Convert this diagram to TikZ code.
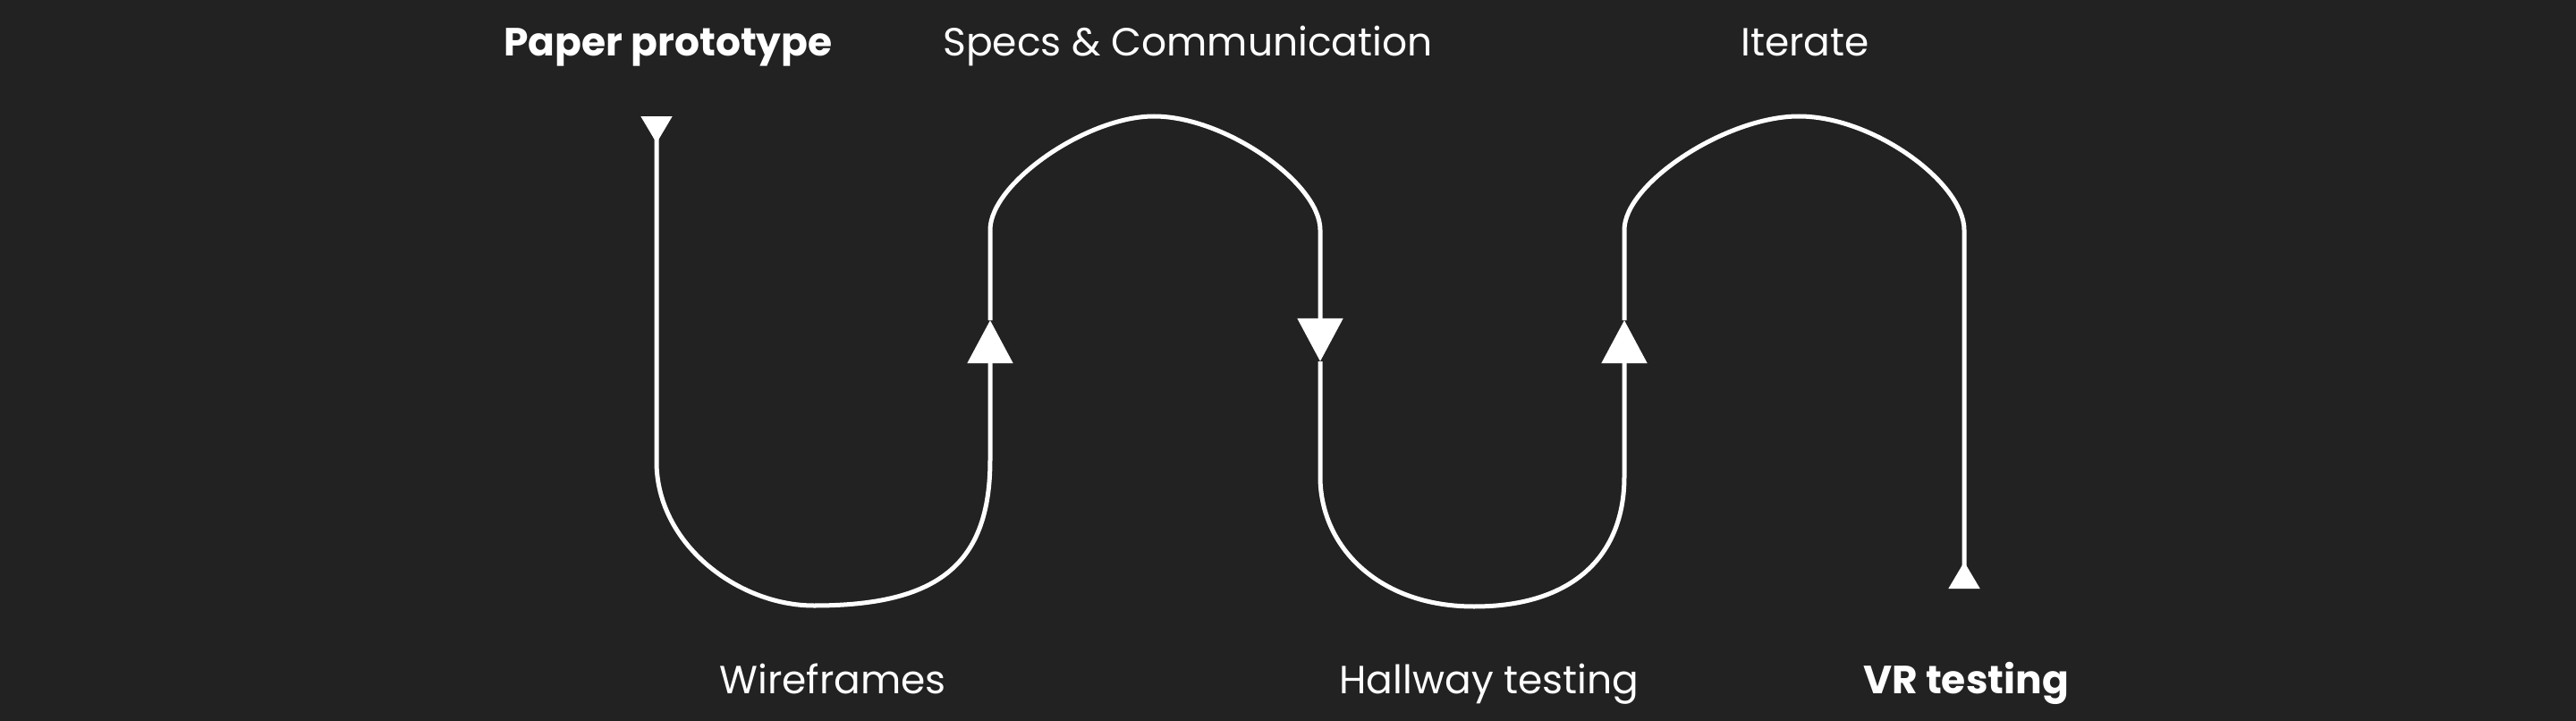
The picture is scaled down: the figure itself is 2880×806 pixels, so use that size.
\documentclass[tikz,border=0pt]{standalone}
\usepackage{fontspec}
\setmainfont{Poppins}
\usetikzlibrary{arrows.meta}
\definecolor{canvas}{RGB}{34,34,34}

\begin{document}
\begin{tikzpicture}[x=0.01cm, y=-0.01cm,
  flow/.style={draw=white, line width=0.05cm, line join=round},
  stage/.style={text=white, inner sep=0pt, anchor=base, font=\fontsize{12.5}{15}\selectfont},
  milestone/.style={stage, font=\fontsize{12.5}{15}\selectfont\bfseries},
  midtip/.tip={Triangle[length=0.48cm, width=0.5cm]},
  endtip/.tip={Triangle[reversed, length=0.3cm, width=0.34cm]}]
  % canvas 2880 x 806 px, 1 px = 0.01 cm
  \fill[canvas] (0,0) rectangle (2880,806);

  % points along the wave
  \coordinate (start) at (734,130);
  \coordinate (l1) at (734,516);
  \coordinate (b1) at (910,677);
  \coordinate (r1) at (1107,514);
  \coordinate (up1) at (1107,358);
  \coordinate (l2) at (1107,257);
  \coordinate (t1) at (1290,130);
  \coordinate (r2) at (1476,257);
  \coordinate (dn1) at (1476,404);
  \coordinate (l3) at (1476,533);
  \coordinate (b2) at (1648,678);
  \coordinate (r3) at (1816,533);
  \coordinate (up2) at (1816,358);
  \coordinate (l4) at (1816,257);
  \coordinate (t2) at (2011,130);
  \coordinate (r4) at (2196,257);
  \coordinate (finish) at (2196,658);

  % the wave, split at the arrow heads
  \draw[flow, endtip-midtip] (start) -- (l1)
    .. controls (734,608) and (825,677) .. (b1)
    .. controls (1050,677) and (1107,630) .. (r1) -- (up1);
  \draw[flow, -midtip] (up1) -- (l2)
    .. controls (1107,205) and (1215,130) .. (t1)
    .. controls (1370,130) and (1476,205) .. (r2) -- (dn1);
  \draw[flow, -midtip] (dn1) -- (l3)
    .. controls (1476,610) and (1540,678) .. (b2)
    .. controls (1760,678) and (1816,620) .. (r3) -- (up2);
  \draw[flow, -endtip] (up2) -- (l4)
    .. controls (1816,205) and (1930,130) .. (t2)
    .. controls (2095,130) and (2196,205) .. (r4) -- (finish);

  % labels (placed on their baselines)
  \node[milestone] (paper) at (747,62) {Paper prototype};
  \node[stage] (specs) at (1328,62) {Specs \& Communication};
  \node[stage] (iterate) at (2018,62) {Iterate};
  \node[stage] (wire) at (931,775) {Wireframes};
  \node[stage] (hallway) at (1665,775) {Hallway testing};
  \node[milestone] (vr) at (2198,775) {VR testing};
\end{tikzpicture}
\end{document}
